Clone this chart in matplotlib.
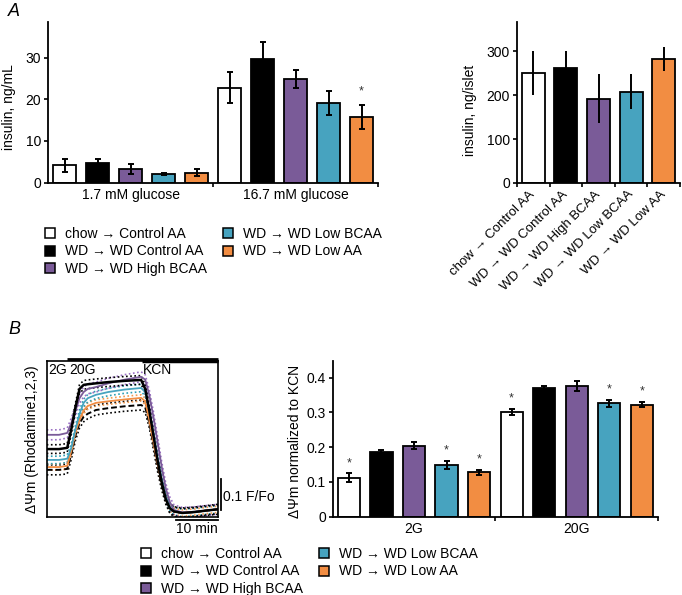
import matplotlib

matplotlib.use("Agg")
import matplotlib.pyplot as plt  # noqa: E402
import matplotlib.transforms as mtransforms  # noqa: E402
from matplotlib.lines import Line2D  # noqa: E402

plt.rcParams["font.family"] = ["Liberation Sans", "DejaVu Sans"]

# --- data ---
groups = [
    "chow \u2192 Control AA",
    "WD \u2192 WD Control AA",
    "WD \u2192 WD High BCAA",
    "WD \u2192 WD Low BCAA",
    "WD \u2192 WD Low AA",
]
glucose_labels = ["1.7 mM glucose", "16.7 mM glucose"]
insulin_low = [4.1, 4.6, 3.25, 2.05, 2.4]
insulin_low_err = [1.5, 1.1, 1.2, 0.3, 0.9]
insulin_high = [22.8, 29.8, 24.9, 19.1, 15.7]
insulin_high_err = [3.7, 4.0, 2.1, 2.9, 2.9]
insulin_high_sig = [False, False, False, False, True]

islet = [251, 261, 192, 208, 282]
islet_err = [50, 38, 56, 39, 28]

dpsi_labels = ["2G", "20G"]
dpsi_2g = [0.112, 0.185, 0.204, 0.148, 0.128]
dpsi_2g_err = [0.012, 0.008, 0.010, 0.011, 0.007]
dpsi_2g_sig = [True, False, False, True, True]
dpsi_20g = [0.302, 0.370, 0.376, 0.326, 0.322]
dpsi_20g_err = [0.009, 0.007, 0.014, 0.011, 0.007]
dpsi_20g_sig = [True, False, False, True, True]

# rhodamine traces (min, F/Fo above KCN floor)
trace_t = [0, 3, 5, 6, 7, 8, 9, 10, 12, 15, 19, 23, 24, 25, 26, 27, 28, 29,
           30, 31, 33, 36, 39, 41.8]
trace_chow = [0.139, 0.139, 0.142, 0.19, 0.25, 0.29, 0.31, 0.32, 0.332, 0.338,
              0.344, 0.348, 0.34, 0.29, 0.22, 0.15, 0.09, 0.045, 0.015, 0.004,
              0.0, 0.003, 0.008, 0.012]
trace_wd = [0.206, 0.206, 0.21, 0.27, 0.34, 0.40, 0.413, 0.415, 0.418, 0.422,
            0.426, 0.429, 0.40, 0.33, 0.25, 0.17, 0.10, 0.045, 0.015, 0.005,
            0.0, 0.003, 0.008, 0.012]
trace_high = [0.252, 0.252, 0.258, 0.29, 0.33, 0.37, 0.39, 0.40, 0.406, 0.418,
              0.43, 0.439, 0.43, 0.38, 0.31, 0.23, 0.15, 0.08, 0.035, 0.01,
              0.002, 0.004, 0.008, 0.012]
trace_lowbcaa = [0.171, 0.171, 0.175, 0.21, 0.27, 0.32, 0.355, 0.37, 0.381,
                 0.39, 0.398, 0.403, 0.39, 0.33, 0.26, 0.18, 0.11, 0.055, 0.02,
                 0.006, 0.0, 0.003, 0.008, 0.012]
trace_lowaa = [0.148, 0.148, 0.152, 0.20, 0.26, 0.30, 0.33, 0.345, 0.355, 0.36,
               0.366, 0.371, 0.36, 0.30, 0.23, 0.16, 0.10, 0.05, 0.018, 0.005,
               0.0, 0.003, 0.008, 0.012]
trace_sem = [0.016, 0.014, 0.016, 0.012, 0.010]
glucose_on = 4.9
kcn_on = 23.2

colors = ["white", "black", "#7a5b98", "#47a3bf", "#f28d42"]
dot_colors = ["black", "black", "#9a6fc4", "#2f9fb5", "#f29a50"]

W, H = 682, 595
fig = plt.figure(figsize=(W / 100, H / 100), dpi=100)


def rect(x0, y0, x1, y1):
    return [x0 / W, 1 - y1 / H, (x1 - x0) / W, (y1 - y0) / H]


def style(ax):
    for s in ("top", "right"):
        ax.spines[s].set_visible(False)
    for s in ("left", "bottom"):
        ax.spines[s].set_linewidth(1.3)
    ax.tick_params(axis="y", length=3, width=1.2, labelsize=10, pad=2)


def bars(ax, xs, vals, errs, cap):
    ax.bar(xs, vals, width=0.68, color=colors, edgecolor="black",
           linewidth=1.3, zorder=2)
    ax.errorbar(xs, vals, yerr=errs, fmt="none", ecolor="black",
                elinewidth=1.4, capsize=cap, capthick=1.4, zorder=3)


def stars(ax, xs, vals, errs, sig, off):
    for x, v, e, s in zip(xs, vals, errs, sig):
        if s:
            ax.text(x, v + e + off, "*", ha="center", va="center",
                    fontsize=9, color="#333333")


def group_axis(ax, n, labels):
    ax.set_xlim(-0.5, 2 * n - 0.5)
    ax.set_xticks([n - 0.5, 2 * n - 0.5])
    ax.set_xticklabels([])
    ax.tick_params(axis="x", which="major", length=3, width=1.2,
                   direction="out")
    ax.set_xticks([(n - 1) / 2, n + (n - 1) / 2], minor=True)
    ax.set_xticklabels(labels, minor=True, fontsize=10)
    ax.tick_params(axis="x", which="minor", length=0, pad=4)


# --- A left: insulin secretion ---
ax1 = fig.add_axes(rect(48, 22, 378, 182.5))
style(ax1)
x_lo = list(range(5))
x_hi = [i + 5 for i in range(5)]
bars(ax1, x_lo, insulin_low, insulin_low_err, 2.5)
bars(ax1, x_hi, insulin_high, insulin_high_err, 2.5)
stars(ax1, x_hi, insulin_high, insulin_high_err, insulin_high_sig, 3.2)
ax1.set_ylim(0, 38.6)
ax1.set_yticks([0, 10, 20, 30])
group_axis(ax1, 5, glucose_labels)
ax1.set_ylabel("insulin, ng/mL", fontsize=10)
ax1.yaxis.set_label_coords(-0.098, 0.47)

# --- A right: insulin content ---
ax2 = fig.add_axes(rect(517, 22, 680, 183))
style(ax2)
ax2.bar(range(5), islet, width=0.7, color=colors, edgecolor="black",
        linewidth=1.3, zorder=2)
ax2.errorbar(range(5), islet, yerr=islet_err, fmt="none", ecolor="black",
             elinewidth=1.4, capsize=0, zorder=3)
ax2.set_xlim(-0.5, 4.5)
ax2.set_ylim(0, 366)
ax2.set_yticks([0, 100, 200, 300])
ax2.set_xticks(range(5))
ax2.set_xticklabels(groups, rotation=45, ha="right", va="center",
                    rotation_mode="anchor", fontsize=9.5)
ax2.tick_params(axis="x", which="major", length=0, pad=7)
ax2.set_xticks([i - 0.5 for i in range(6)], minor=True)
ax2.tick_params(axis="x", which="minor", length=3, width=1.2)
ax2.set_ylabel("insulin, ng/islet", fontsize=10)
ax2.yaxis.set_label_coords(-0.245, 0.45)

# --- B left: rhodamine traces ---
ax3 = fig.add_axes(rect(46.7, 361, 218.3, 517))
traces = [trace_chow, trace_wd, trace_high, trace_lowbcaa, trace_lowaa]
order = [0, 4, 3, 2, 1]
for i in order:
    y = traces[i]
    lo = [v - trace_sem[i] for v in y]
    hi = [v + trace_sem[i] for v in y]
    ax3.plot(trace_t, lo, ls=(0, (1, 1.5)), color=dot_colors[i], lw=1.2)
    ax3.plot(trace_t, hi, ls=(0, (1, 1.5)), color=dot_colors[i], lw=1.2)
for i in order:
    if i == 0:
        ax3.plot(trace_t, traces[i], ls=(0, (3, 1.5)), color="black", lw=1.4)
    elif i == 1:
        ax3.plot(trace_t, traces[i], color="black", lw=1.8)
    else:
        ax3.plot(trace_t, traces[i], color=colors[i], lw=1.3)
ax3.set_xlim(0, 41.8)
ax3.set_ylim(-0.013, 0.49)
ax3.set_xticks([])
ax3.set_yticks([])
for s in ax3.spines.values():
    s.set_linewidth(1.2)
tr = mtransforms.blended_transform_factory(ax3.transData, ax3.transAxes)
ax3.add_line(Line2D([glucose_on, 41.8], [1.015, 1.015], color="black", lw=2,
                    transform=tr, clip_on=False, solid_capstyle="butt"))
ax3.add_line(Line2D([kcn_on, 41.8], [1.0, 1.0], color="black", lw=2.5,
                    transform=tr, clip_on=False, solid_capstyle="butt"))
ax3.text(0.4, 0.945, "2G", transform=tr, fontsize=10, va="center")
ax3.text(5.6, 0.945, "20G", transform=tr, fontsize=10, va="center")
ax3.text(23.4, 0.945, "KCN", transform=tr, fontsize=10, va="center")
# scale bars
tr2 = mtransforms.blended_transform_factory(ax3.transAxes, ax3.transData)
ax3.add_line(Line2D([1.014, 1.014], [0.01, 0.11], color="black", lw=1.3,
                    transform=tr2, clip_on=False))
ax3.text(1.028, 0.052, "0.1 F/Fo", transform=tr2, fontsize=10, va="center")
ax3.add_line(Line2D([31.6, 41.8], [-0.019, -0.019], color="black", lw=1.3,
                    transform=tr, clip_on=False))
ax3.text(36.6, -0.077, "10 min", transform=tr, fontsize=10, ha="center",
         va="center")
ax3.set_ylabel("\u0394\u03a8m (Rhodamine1,2,3)", fontsize=10)
ax3.yaxis.set_label_coords(-0.045, 0.5)

# --- B right: normalized membrane potential ---
ax4 = fig.add_axes(rect(332.7, 361, 658, 516.5))
style(ax4)
bars(ax4, x_lo, dpsi_2g, dpsi_2g_err, 2.5)
bars(ax4, x_hi, dpsi_20g, dpsi_20g_err, 2.5)
stars(ax4, x_lo, dpsi_2g, dpsi_2g_err, dpsi_2g_sig, 0.03)
stars(ax4, x_hi, dpsi_20g, dpsi_20g_err, dpsi_20g_sig, 0.03)
ax4.set_ylim(0, 0.448)
ax4.set_yticks([0, 0.1, 0.2, 0.3, 0.4])
ax4.set_yticklabels(["0", "0.1", "0.2", "0.3", "0.4"])
group_axis(ax4, 5, dpsi_labels)
ax4.set_ylabel("\u0394\u03a8m normalized to KCN", fontsize=10)
ax4.yaxis.set_label_coords(-0.094, 0.48)

# --- legends ---
handles = [Line2D([], [], marker="s", ls="none", markersize=7.5,
                  markerfacecolor=c, markeredgecolor="black",
                  markeredgewidth=1.1) for c in colors]
for x0, y0 in [(44, 227), (140, 547)]:
    fig.legend(handles, groups, ncol=2, loc="upper left",
               bbox_to_anchor=(x0 / W, 1 - y0 / H), frameon=False,
               fontsize=10, handlelength=0.8, handletextpad=0.7,
               columnspacing=1.1, labelspacing=0.25, borderpad=0,
               borderaxespad=0)

fig.text(8 / W, 1 - 11 / H, "A", fontsize=13, style="italic", va="center")
fig.text(8 / W, 1 - 329 / H, "B", fontsize=13, style="italic", va="center")

fig.savefig("out.png", dpi=100)
